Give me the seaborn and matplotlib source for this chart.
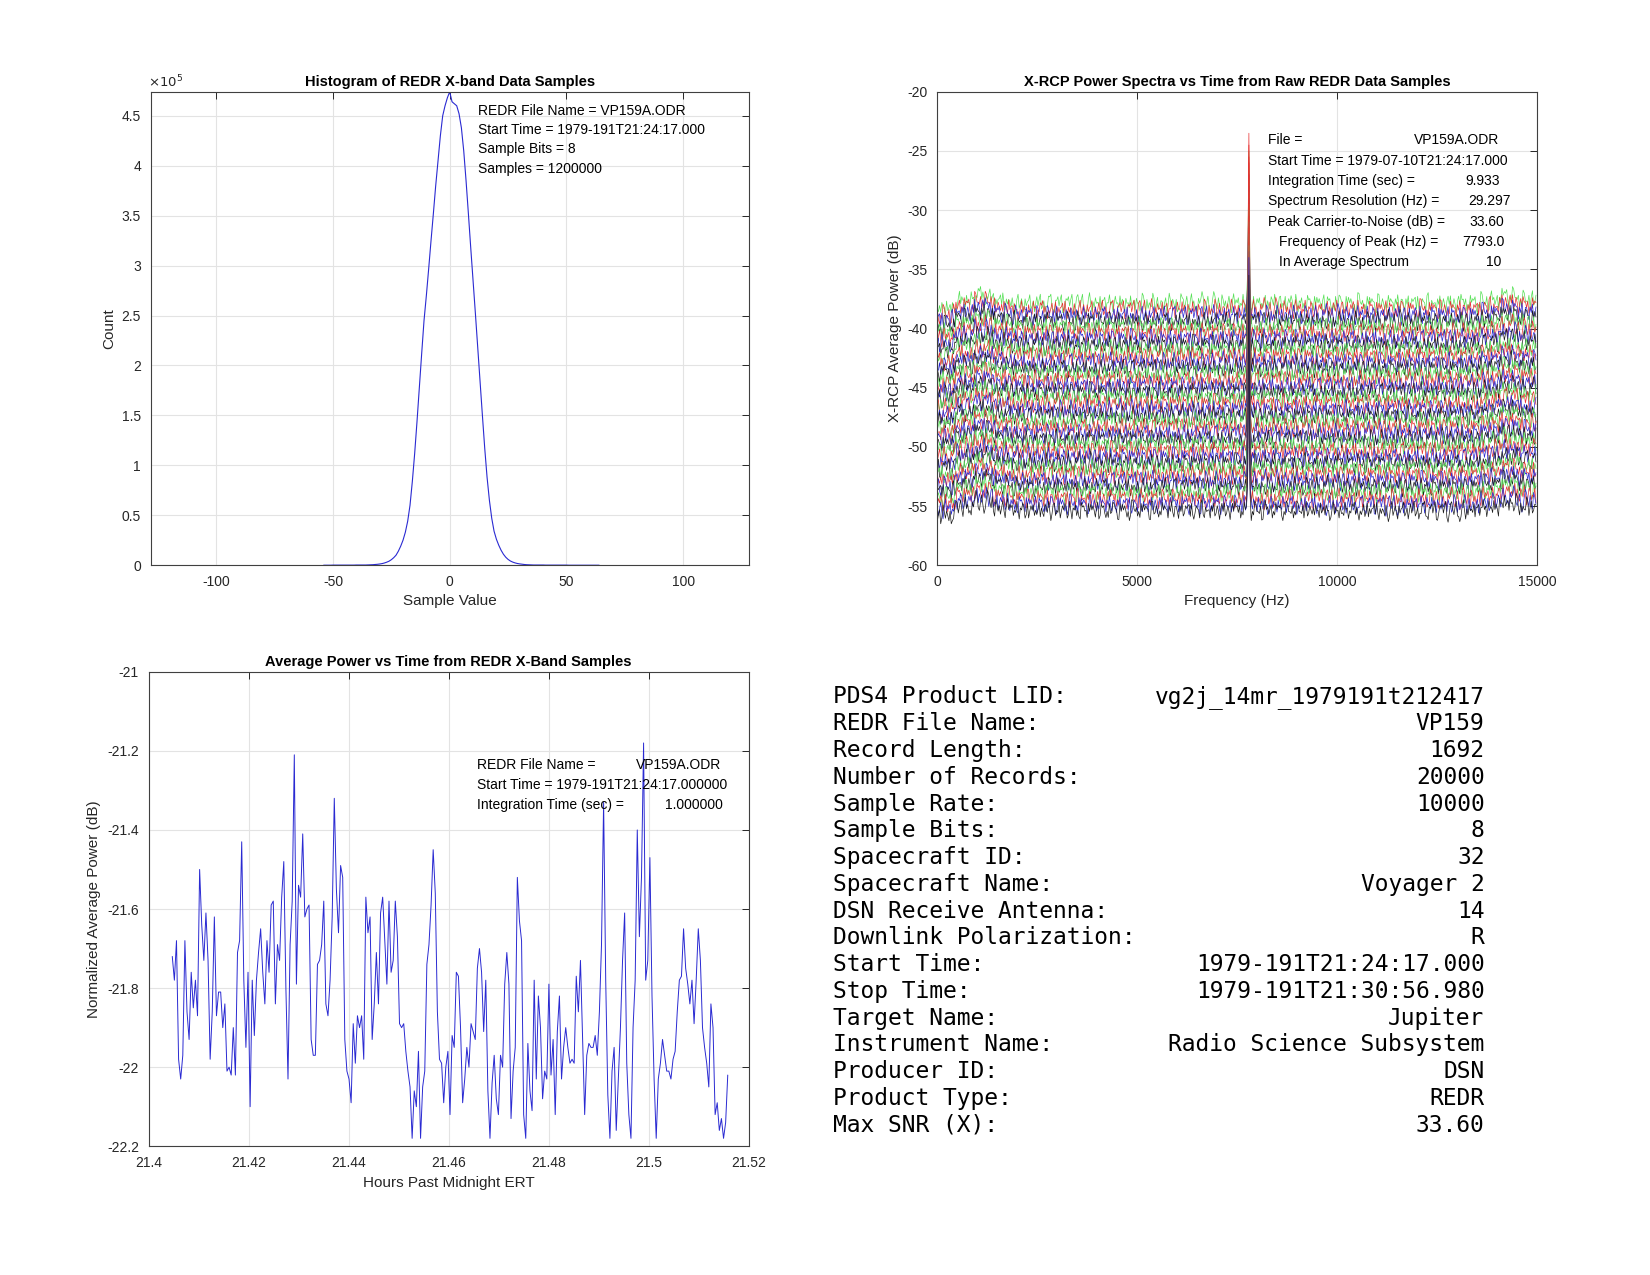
import numpy as np
import pandas as pd
import matplotlib
matplotlib.use("Agg")
import matplotlib.pyplot as plt
import seaborn as sns
from matplotlib.ticker import FuncFormatter, MultipleLocator

# ---------------- data ----------------
# Histogram of sample values (counts in units of 1e5)
hist_x = list(range(-54, 65))
hist_counts = (
    [0.0] * 4 + [0.001] * 10 + [0.002] * 5 +
    [0.003, 0.004, 0.005, 0.007, 0.009, 0.012, 0.016, 0.022, 0.03, 0.04,
     0.055, 0.075, 0.10, 0.14, 0.19, 0.25, 0.33, 0.44, 0.60, 0.84,
     1.12, 1.44, 1.78, 2.12, 2.45, 2.70, 2.97, 3.25, 3.52, 3.80,
     4.05, 4.30, 4.50, 4.60, 4.68,
     4.74,
     4.64, 4.62, 4.60, 4.52, 4.38, 4.15, 3.85, 3.52, 3.18, 2.85,
     2.52, 2.18, 1.84, 1.50, 1.17, 0.88, 0.65, 0.47, 0.34, 0.26,
     0.20, 0.15, 0.11, 0.08, 0.058, 0.042, 0.031, 0.023, 0.017, 0.013,
     0.010, 0.007, 0.005, 0.004, 0.003] +
    [0.002] * 5 + [0.001] * 10 + [0.0] * 14
)

# Power spectra: per-bin noise levels (digits), coarse spectral shape,
# line offsets and carrier peak values
spec_resolution_hz = 29.297
peak_freq_hz = 7793.0
noise_digits = (
    "5372846193572846135927461835294716385927416358249173658294173652"
    "8413692574183659247158369247153869241758369124758369214785369241"
    "3695172846391758264937158462937518462935718462397518264397158246"
    "6258149637528143967258416937251846973258413697528419637258416937"
    "4826395174862391574826359174286395147826391574862395174826319574"
    "6193847526913857426193487562193847526139854726193847562198347526"
    "2947561839427651839247568193247561893274561839247516839247516839"
    "5738162947583162974538126947358162947583162974538162974538169247"
)
shape_db = [-0.4, 0.3, 0.7, 0.2, 0.0, 0.0, 0.0, 0.0, 0.0, 0.0, 0.0, 0.0,
            0.0, 0.0, 0.0, 0.0, 0.0, 0.0, 0.0, 0.0, 0.0, 0.0, 0.0, 0.0,
            0.0, 0.0, 0.0, 0.0, 0.0, 0.2, 0.6, 0.3]
line_offsets = [-38.0, -38.5, -39.0, -39.5, -40.0, -40.5, -41.0, -41.5, -42.0,
                -42.5, -43.0, -43.5, -44.0, -44.5, -45.0, -45.5, -46.0, -46.5,
                -47.0, -47.5, -48.0, -48.5, -49.0, -49.5, -50.0, -50.5, -51.0,
                -51.5, -52.0, -52.5, -53.0, -53.5, -54.0, -54.5, -55.0, -55.5]
line_peaks = [-25.0, -23.5, -27.0, -31.5, -26.5, -24.5, -28.0, -30.0, -27.5,
              -25.5, -29.0, -32.0, -28.5, -26.0, -30.5, -33.0, -29.5, -27.0,
              -31.0, -33.5, -30.0, -28.5, -32.0, -34.0, -31.0, -29.5, -33.0,
              -34.5, -32.0, -30.5, -33.5, -35.0, -33.0, -31.5, -34.0, -35.5]
line_colors = ["#55e055", "#e83030", "#2626d0", "#1a1a1a"]

# Average power vs time (1 s integration)
t_start_h = 21 + 24 / 60 + 17.0 / 3600
t_stop_h = 21 + 30 / 60 + 56.98 / 3600
power_db = [
    -21.72, -21.78, -21.68, -21.98, -22.03, -21.97, -21.68, -21.86, -21.93, -21.76,
    -21.85, -21.78, -21.87, -21.50, -21.64, -21.73, -21.61, -21.73, -21.98, -21.86,
    -21.62, -21.87, -21.81, -21.81, -21.90, -21.84, -22.01, -22.00, -22.02, -21.90,
    -22.02, -21.71, -21.68, -21.43, -21.78, -21.95, -21.76, -22.10, -21.78, -21.92,
    -21.78, -21.71, -21.65, -21.76, -21.84, -21.68, -21.76, -21.59, -21.58, -21.84,
    -21.69, -21.73, -21.57, -21.48, -21.80, -22.03, -21.69, -21.58, -21.21, -21.79,
    -21.54, -21.57, -21.41, -21.62, -21.60, -21.59, -21.93, -21.97, -21.97, -21.74,
    -21.73, -21.69, -21.58, -21.84, -21.87, -21.78, -21.62, -21.32, -21.55, -21.66,
    -21.49, -21.52, -21.93, -22.01, -22.03, -22.09, -21.89, -21.99, -21.87, -21.90,
    -21.87, -21.98, -21.57, -21.66, -21.62, -21.93, -21.84, -21.71, -21.84, -21.61,
    -21.57, -21.68, -21.79, -21.58, -21.76, -21.73, -21.58, -21.67, -21.89, -21.90,
    -21.89, -21.96, -22.01,
    -22.05, -22.18, -22.06, -22.10, -21.96, -22.18, -22.05, -22.01, -21.74, -21.69,
    -21.59, -21.45, -21.56, -21.86, -21.98, -21.99, -22.09, -22.00, -21.96, -22.12,
    -21.92, -21.95, -21.76, -21.77, -21.90, -22.09, -22.03, -21.95, -22.00, -21.89,
    -21.91, -21.93, -21.75, -21.70, -21.76, -21.91, -21.78, -22.06, -22.18, -22.04,
    -21.97, -22.08, -22.12, -21.97, -22.00, -21.79, -21.71, -21.79, -22.13, -22.01,
    -21.95, -21.52, -21.63, -21.68, -22.12, -22.18, -21.94, -22.06, -22.11, -21.78,
    -22.03, -21.82, -21.90, -22.08, -22.01, -22.03, -21.79, -22.02, -21.93, -22.12,
    -21.91, -21.82, -22.03, -21.95, -21.90, -21.95, -21.99, -21.98, -21.99, -21.77,
    -21.86, -21.73, -21.93, -22.12, -21.97, -21.94, -21.95, -21.95, -21.92, -21.97,
    -21.86, -21.69, -21.33, -21.78, -22.07, -22.18, -22.01, -21.95, -22.16, -22.03,
    -21.90, -21.73, -21.61, -21.99, -22.12, -22.18, -21.90, -21.78, -21.40, -21.67,
    -21.52, -21.18, -21.78, -21.73, -21.47, -21.82, -22.03, -22.18, -22.03, -21.99,
    -21.93, -21.97, -22.01, -22.01, -22.03, -21.98, -21.96, -21.86, -21.78, -21.77,
    -21.65, -21.75, -21.79, -21.84, -21.78, -21.89, -21.78, -21.65, -21.73, -21.90,
    -21.95, -21.99, -22.05, -21.84, -21.90, -22.12, -22.09, -22.16, -22.13, -22.18,
    -22.14, -22.02,
]

table_labels = ["PDS4 Product LID:", "REDR File Name:", "Record Length:",
                "Number of Records:", "Sample Rate:", "Sample Bits:",
                "Spacecraft ID:", "Spacecraft Name:", "DSN Receive Antenna:",
                "Downlink Polarization:", "Start Time:", "Stop Time:",
                "Target Name:", "Instrument Name:", "Producer ID:",
                "Product Type:", "Max SNR (X):"]
table_values = ["vg2j_14mr_1979191t212417", "VP159", "1692", "20000", "10000",
                "8", "32", "Voyager 2", "14", "R", "1979-191T21:24:17.000",
                "1979-191T21:30:56.980", "Jupiter", "Radio Science Subsystem",
                "DSN", "REDR", "33.60"]

# ---------------- figure ----------------
sns.set_theme(style="white")
plt.rcParams["font.family"] = ["Liberation Sans", "DejaVu Sans"]

fig = plt.figure(figsize=(16.5, 12.75), dpi=100)
fig.patch.set_facecolor("white")

TXT = "#262626"


def fmt(v, pos=None):
    return "{:.10g}".format(round(v, 6))


def style(ax):
    ax.set_facecolor("white")
    ax.grid(True, color="#e3e3e3", lw=0.8)
    ax.set_axisbelow(True)
    for s in ax.spines.values():
        s.set_visible(True)
        s.set_color("#404040")
        s.set_linewidth(0.8)
    ax.tick_params(direction="in", top=True, right=True, length=5, width=0.7,
                   colors=TXT, labelsize=10, pad=7)
    ax.xaxis.set_major_formatter(FuncFormatter(fmt))
    ax.yaxis.set_major_formatter(FuncFormatter(fmt))


# --- Histogram ---
ax1 = fig.add_axes([0.0914, 0.5567, 0.3623, 0.3713])
df_h = pd.DataFrame({"x": hist_x, "c": hist_counts})
sns.lineplot(data=df_h, x="x", y="c", ax=ax1, color="#2a2ad2", lw=0.8)
ax1.set_xlim(-128, 128)
ax1.set_ylim(0, 4.74)
ax1.xaxis.set_major_locator(MultipleLocator(50))
ax1.yaxis.set_major_locator(MultipleLocator(0.5))
style(ax1)
ax1.set_title("Histogram of REDR X-band Data Samples", fontsize=10.5,
              fontweight="bold", pad=4, color="black")
ax1.set_xlabel("Sample Value", fontsize=11, color=TXT, labelpad=4)
ax1.set_ylabel("Count", fontsize=11, color=TXT, labelpad=4)
ax1.text(-0.005, 1.004, r"$\times10^5$", transform=ax1.transAxes, fontsize=9.5,
         color=TXT, va="bottom", ha="left")
hist_lines = ["REDR File Name = VP159A.ODR",
              "Start Time = 1979-191T21:24:17.000",
              "Sample Bits = 8",
              "Samples = 1200000"]
for k, s in enumerate(hist_lines):
    ax1.text(12.2, 4.55 - 0.193 * k, s, fontsize=10, va="center", ha="left",
             color="black")

# --- Spectra ---
ax2 = fig.add_axes([0.568, 0.5567, 0.3636, 0.3713])
raw = np.array([int(c) for c in noise_digits], dtype=float) - 4.5
smooth = 0.15 * np.roll(raw, 1) + 0.7 * raw + 0.15 * np.roll(raw, -1)
nbin = len(smooth)
grp = int(np.ceil(nbin / len(shape_db)))
shape = np.repeat(shape_db, grp)[:nbin]
freq = np.arange(nbin) * spec_resolution_hz
pk = int(round(peak_freq_hz / spec_resolution_hz))
rows = []
for i, (off, peak) in enumerate(zip(line_offsets, line_peaks)):
    y = off + shape + 0.30 * np.roll(smooth, 53 * i)
    y[pk] = peak
    y[pk - 1] = off + 3.0
    y[pk + 1] = off + 1.5
    rows.append(pd.DataFrame({"f": freq, "p": y, "line": f"L{i:02d}"}))
df_s = pd.concat(rows, ignore_index=True)
pal = {f"L{i:02d}": line_colors[i % 4] for i in range(len(line_offsets))}
sns.lineplot(data=df_s, x="f", y="p", hue="line", palette=pal, ax=ax2,
             lw=0.5, legend=False, estimator=None, sort=False)
ax2.set_xlim(0, 15000)
ax2.set_ylim(-60, -20)
ax2.xaxis.set_major_locator(MultipleLocator(5000))
ax2.yaxis.set_major_locator(MultipleLocator(5))
style(ax2)
ax2.set_title("X-RCP Power Spectra vs Time from Raw REDR Data Samples",
              fontsize=10.5, fontweight="bold", pad=4, color="black")
ax2.set_xlabel("Frequency (Hz)", fontsize=11, color=TXT, labelpad=4)
ax2.set_ylabel("X-RCP Average Power (dB)", fontsize=11, color=TXT, labelpad=4)
spec_left = ["File =", "Start Time = 1979-07-10T21:24:17.000",
             "Integration Time (sec) =", "Spectrum Resolution (Hz) =",
             "Peak Carrier-to-Noise (dB) =", "Frequency of Peak (Hz) =",
             "In Average Spectrum"]
spec_left_x = [8278, 8278, 8278, 8278, 8278, 8541, 8541]
spec_right = ["VP159A.ODR", "", "9.933", "29.297", "33.60", "7793.0", "10"]
spec_right_x = [14051, 0, 14077, 14341, 14183, 14183, 14104]
for k in range(len(spec_left)):
    yy = -24.10 - 1.72 * k
    ax2.text(spec_left_x[k], yy, spec_left[k], fontsize=10, va="center",
             ha="left", color="black")
    if spec_right[k]:
        ax2.text(spec_right_x[k], yy, spec_right[k], fontsize=10, va="center",
                 ha="right", color="black")

# --- Average power vs time ---
ax3 = fig.add_axes([0.0901, 0.101, 0.3636, 0.3721])
t_h = np.linspace(t_start_h, t_stop_h, len(power_db))
df_p = pd.DataFrame({"t": t_h, "p": power_db})
sns.lineplot(data=df_p, x="t", y="p", ax=ax3, color="#2a2ad2", lw=0.7)
ax3.set_xlim(21.4, 21.52)
ax3.set_ylim(-22.2, -21.0)
ax3.xaxis.set_major_locator(MultipleLocator(0.02))
ax3.yaxis.set_major_locator(MultipleLocator(0.2))
style(ax3)
ax3.set_title("Average Power vs Time from REDR X-Band Samples", fontsize=10.5,
              fontweight="bold", pad=4, color="black")
ax3.set_xlabel("Hours Past Midnight ERT", fontsize=11, color=TXT, labelpad=4)
ax3.set_ylabel("Normalized Average Power (dB)", fontsize=11, color=TXT,
               labelpad=4)
pw_left = ["REDR File Name =", "Start Time = 1979-191T21:24:17.000000",
           "Integration Time (sec) ="]
pw_right = ["VP159A.ODR", "", "1.000000"]
pw_right_x = [21.5145, 0, 21.5149]
for k in range(3):
    yy = -21.235 - 0.0505 * k
    ax3.text(21.4656, yy, pw_left[k], fontsize=10, va="center", ha="left",
             color="black")
    if pw_right[k]:
        ax3.text(pw_right_x[k], yy, pw_right[k], fontsize=10, va="center",
                 ha="right", color="black")

# --- Text table ---
y0 = 0.4483
dy = 0.0210
for k, (lab, val) in enumerate(zip(table_labels, table_values)):
    fig.text(0.5048, y0 - dy * k, lab, family="DejaVu Sans Mono", fontsize=16.5,
             ha="left", va="baseline", color="black")
    fig.text(0.8997, y0 - dy * k, val, family="DejaVu Sans Mono", fontsize=16.5,
             ha="right", va="baseline", color="black")

fig.savefig("out.png", dpi=100, facecolor="white")
